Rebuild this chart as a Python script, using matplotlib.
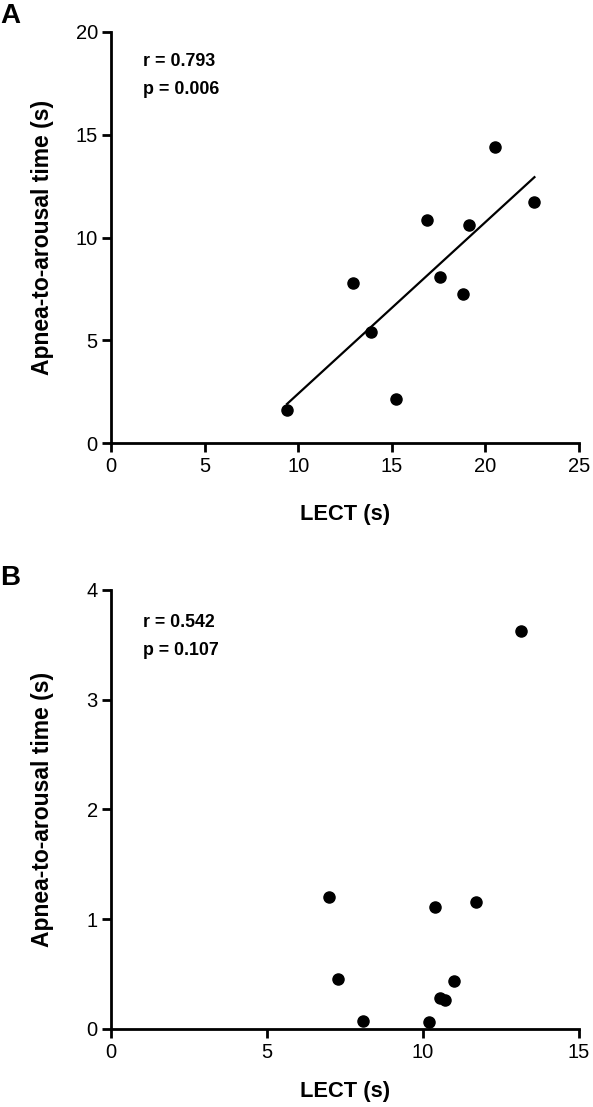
import matplotlib
matplotlib.use("Agg")
import matplotlib.pyplot as plt
from matplotlib import font_manager
import numpy as np

# panel A data
lect_a = [9.40, 12.92, 13.91, 15.20, 16.90, 17.59, 18.80, 19.10, 20.50, 22.62]
arousal_a = [1.63, 7.79, 5.38, 2.12, 10.85, 8.08, 7.27, 10.62, 14.42, 11.73]
r_a = "r = 0.793"
p_a = "p = 0.006"

# panel B data
lect_b = [6.99, 7.29, 8.08, 10.19, 10.39, 10.55, 10.71, 10.98, 11.69, 13.15]
arousal_b = [1.198, 0.455, 0.069, 0.063, 1.112, 0.284, 0.264, 0.436, 1.158, 3.624]
r_b = "r = 0.542"
p_b = "p = 0.107"

installed = {f.name for f in font_manager.fontManager.ttflist}
narrow = 'Liberation Sans Narrow' in installed
if narrow:
    main_font = ['Liberation Sans Narrow', 'DejaVu Sans']
    tick_size = 16
else:
    main_font = ['Liberation Sans', 'DejaVu Sans']
    tick_size = 14.5
plt.rcParams['font.family'] = main_font

fig = plt.figure(figsize=(5.93, 11.07), dpi=100)
ax_a = fig.add_axes([0.1872, 0.5998, 0.7892, 0.3713])
ax_b = fig.add_axes([0.1872, 0.0705, 0.7892, 0.3966])
renderer = fig.canvas.get_renderer()


def fit(t, target, vertical=False):
    # scale the font so the text spans target pixels
    for _ in range(3):
        bb = t.get_window_extent(renderer=renderer)
        size = bb.height if vertical else bb.width
        t.set_fontsize(t.get_fontsize() * target / size)


def style(ax, xmax, ymax, xstep, ystep, xlab_y):
    ax.set_xlim(0, xmax)
    ax.set_ylim(0, ymax)
    xt = np.arange(0, xmax + 0.1, xstep)
    yt = np.arange(0, ymax + 0.1, ystep)
    ax.set_xticks(xt, labels=[str(int(v)) for v in xt], fontsize=tick_size, family=main_font)
    ax.set_yticks(yt, labels=[str(int(v)) for v in yt], fontsize=tick_size, family=main_font)
    for s in ['top', 'right']:
        ax.spines[s].set_visible(False)
    for s in ['left', 'bottom']:
        ax.spines[s].set_linewidth(2)
    ax.tick_params(axis='x', width=2, length=6.5, direction='out', pad=3.5)
    ax.tick_params(axis='y', width=2, length=6.5, direction='out', pad=3)
    yl = ax.set_ylabel('Apnea-to-arousal time (s)', fontsize=16, fontweight='bold', va='center')
    ax.yaxis.set_label_coords(-0.1474, 0.5)
    xl = ax.set_xlabel('LECT (s)', fontsize=16, fontweight='bold', va='center')
    ax.xaxis.set_label_coords(0.5, xlab_y)
    fit(yl, 275, vertical=True)
    fit(xl, 90)


style(ax_a, 25, 20, 5, 5, -0.175)
ax_a.scatter(lect_a, arousal_a, s=64, color='black', zorder=3, clip_on=False)
fit_ab = np.polyfit(lect_a, arousal_a, 1)
xs = np.array([min(lect_a), max(lect_a)])
ax_a.plot(xs, np.polyval(fit_ab, xs), color='black', lw=1.6)
t = ax_a.text(0.0684, 0.927, r_a, transform=ax_a.transAxes, fontsize=13, fontweight='bold', va='center')
fit(t, 72)
ax_a.text(0.0684, 0.861, p_a, transform=ax_a.transAxes, fontsize=t.get_fontsize(), fontweight='bold', va='center')

style(ax_b, 15, 4, 5, 1, -0.1435)
ax_b.scatter(lect_b, arousal_b, s=64, color='black', zorder=3, clip_on=False)
t = ax_b.text(0.0684, 0.925, r_b, transform=ax_b.transAxes, fontsize=13, fontweight='bold', va='center')
fit(t, 72)
ax_b.text(0.0684, 0.862, p_b, transform=ax_b.transAxes, fontsize=t.get_fontsize(), fontweight='bold', va='center')

fig.text(0.0, 1 - 23 / 1107, 'A', fontsize=20, fontweight='bold', va='baseline', ha='left')
fig.text(0.0, 1 - 585 / 1107, 'B', fontsize=20, fontweight='bold', va='baseline', ha='left')

fig.savefig('out.png', dpi=100)
